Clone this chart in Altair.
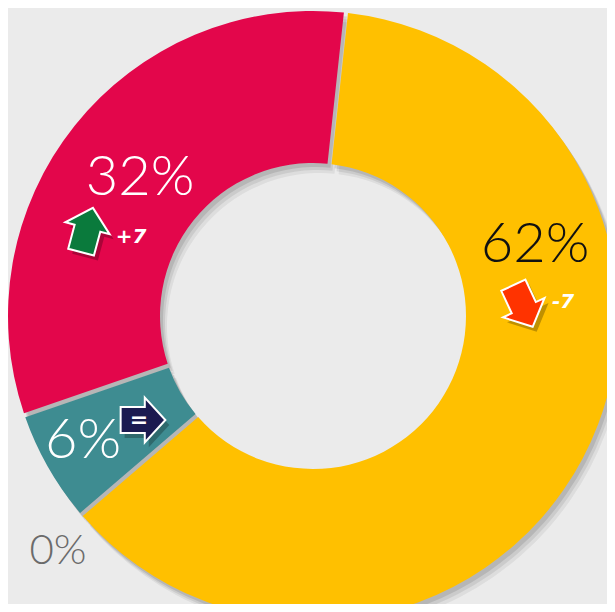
import math
import altair as alt
import pandas as pd

# ---- data ----
segments = ["Yellow", "Teal", "Crimson", "Gray"]
values = [62, 6, 32, 0]
changes = ["-7", "=", "+7", ""]
colors = ["#FFC000", "#3E8C91", "#E3064B", "#9a9a9a"]

df = pd.DataFrame({
    "segment": segments,
    "value": values,
    "order": list(range(len(segments))),
})

BG = "#EBEBEB"
CX, CY = 305, 308
R_IN, R_OUT = 153, 305
START = math.radians(6.2)

theta = alt.Theta("value:Q", stack=True,
                  scale=alt.Scale(domain=[0, 100], range=[START, START + 2 * math.pi]))
color = alt.Color("segment:N", scale=alt.Scale(domain=segments, range=colors), legend=None)

base = alt.Chart(df)

layers = []
# soft drop shadow
for dx, dy, op in [(7, 10, 0.06), (5, 7, 0.08), (3, 4, 0.10)]:
    layers.append(
        base.mark_arc(innerRadius=R_IN, outerRadius=R_OUT, padAngle=0.012, color="#000000", opacity=op)
        .encode(theta=theta, order=alt.Order("order:Q"), x=alt.value(CX + dx), y=alt.value(CY + dy))
    )

layers.append(
    base.mark_arc(innerRadius=R_IN, outerRadius=R_OUT, padAngle=0.012)
    .encode(theta=theta, color=color, order=alt.Order("order:Q"), x=alt.value(CX), y=alt.value(CY))
)

# arrows
ARROW = "M0,-1 L1,-0.08 L0.58,-0.08 L0.58,1 L-0.58,1 L-0.58,-0.08 L-1,-0.08 Z"
arrow_specs = [
    # (change index, fill, x, y, angle, size)
    (0, "#FF3300", 515, 298, 155, 2100),
    (1, "#1B1A50", 135, 412, 90, 2000),
    (2, "#0A7A3C", 79, 222, 15, 2100),
]
for idx, fill, x, y, ang, size in arrow_specs:
    d = pd.DataFrame({"change": [changes[idx]]})
    layers.append(
        alt.Chart(d).mark_point(shape=ARROW, filled=True, fill="#000000", opacity=0.25,
                                strokeWidth=0, angle=ang, size=size)
        .encode(x=alt.value(x + 4), y=alt.value(y + 5))
    )
    layers.append(
        alt.Chart(d).mark_point(shape=ARROW, filled=True, fill=fill, opacity=1,
                                stroke="#FFFFFF", strokeWidth=2, angle=ang, size=size)
        .encode(x=alt.value(x), y=alt.value(y))
    )

# change texts
change_specs = [
    (0, 555, 294, "#FFFFFF", 20),
    (1, 131, 412, "#FFFFFF", 22),
    (2, 123, 229, "#FFFFFF", 20),
]
for idx, x, y, c, fs in change_specs:
    d = pd.DataFrame({"change": [changes[idx]]})
    layers.append(
        alt.Chart(d).mark_text(font="DejaVu Sans", fontSize=fs, fontWeight="bold", fontStyle="oblique",
                               color=c, align="center", baseline="middle")
        .encode(text="change:N", x=alt.value(x), y=alt.value(y))
    )

# percentage labels
label_specs = [
    (0, 527, 237, "#111111", 56),
    (1, 75, 433, "#FFFFFF", 56),
    (2, 132, 170, "#FFFFFF", 56),
    (3, 50, 543, "#6B6B6B", 42),
]
for idx, x, y, c, fs in label_specs:
    d = pd.DataFrame({"label": [f"{values[idx]}%"]})
    layers.append(
        alt.Chart(d).mark_text(font="Lato", fontSize=fs, fontWeight=300,
                               color=c, align="center", baseline="middle")
        .encode(text="label:N", x=alt.value(x), y=alt.value(y))
    )

chart = (
    alt.layer(*layers)
    .properties(width=599, height=596, background=BG, padding=0, autosize="none")
    .configure_view(stroke=None)
)

chart.save("out.html", embed_options={"renderer": "svg", "actions": False})
